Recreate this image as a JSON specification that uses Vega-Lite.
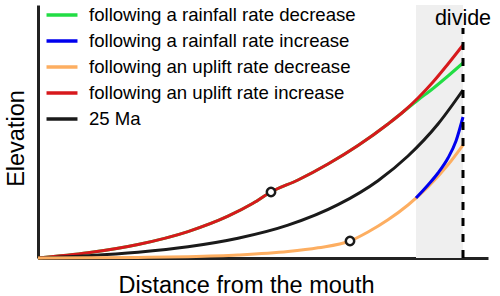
{
  "$schema": "https://vega.github.io/schema/vega-lite/v6.json",
  "width": 450,
  "height": 253,
  "autosize": "none",
  "padding": {"left": 38, "top": 5, "right": 12, "bottom": 38},
  "config": {
    "view": {"stroke": null},
    "font": "Liberation Sans",
    "axis": {"grid": false, "ticks": false, "labels": false, "domainColor": "#222222", "domainWidth": 3, "titleFontSize": 23.5, "titleFontWeight": "normal", "titleColor": "#000000", "titleFont": "Liberation Sans"}
  },
  "datasets": {
    "curves": [
      {"series": "following a rainfall rate decrease", "x": 0, "y": 0},
      {"series": "following a rainfall rate decrease", "x": 50, "y": 5.2},
      {"series": "following a rainfall rate decrease", "x": 100, "y": 13.5},
      {"series": "following a rainfall rate decrease", "x": 150, "y": 26.4},
      {"series": "following a rainfall rate decrease", "x": 190, "y": 41.8},
      {"series": "following a rainfall rate decrease", "x": 215, "y": 54.7},
      {"series": "following a rainfall rate decrease", "x": 233, "y": 66},
      {"series": "following a rainfall rate decrease", "x": 260, "y": 78},
      {"series": "following a rainfall rate decrease", "x": 290, "y": 94},
      {"series": "following a rainfall rate decrease", "x": 320, "y": 112.5},
      {"series": "following a rainfall rate decrease", "x": 350, "y": 134},
      {"series": "following a rainfall rate decrease", "x": 365, "y": 146},
      {"series": "following a rainfall rate decrease", "x": 380, "y": 158},
      {"series": "following a rainfall rate decrease", "x": 395, "y": 169.5},
      {"series": "following a rainfall rate decrease", "x": 410, "y": 182},
      {"series": "following a rainfall rate decrease", "x": 425, "y": 195},
      {"series": "following an uplift rate increase", "x": 0, "y": 0},
      {"series": "following an uplift rate increase", "x": 50, "y": 5.2},
      {"series": "following an uplift rate increase", "x": 100, "y": 13.5},
      {"series": "following an uplift rate increase", "x": 150, "y": 26.4},
      {"series": "following an uplift rate increase", "x": 190, "y": 41.8},
      {"series": "following an uplift rate increase", "x": 215, "y": 54.7},
      {"series": "following an uplift rate increase", "x": 233, "y": 66},
      {"series": "following an uplift rate increase", "x": 260, "y": 78},
      {"series": "following an uplift rate increase", "x": 290, "y": 94},
      {"series": "following an uplift rate increase", "x": 320, "y": 112.5},
      {"series": "following an uplift rate increase", "x": 350, "y": 134},
      {"series": "following an uplift rate increase", "x": 365, "y": 146},
      {"series": "following an uplift rate increase", "x": 380, "y": 160},
      {"series": "following an uplift rate increase", "x": 395, "y": 176},
      {"series": "following an uplift rate increase", "x": 410, "y": 194},
      {"series": "following an uplift rate increase", "x": 425, "y": 213},
      {"series": "25 Ma", "x": 0, "y": 0},
      {"series": "25 Ma", "x": 50, "y": 2.3},
      {"series": "25 Ma", "x": 100, "y": 5.8},
      {"series": "25 Ma", "x": 150, "y": 11.2},
      {"series": "25 Ma", "x": 200, "y": 19.7},
      {"series": "25 Ma", "x": 250, "y": 32.8},
      {"series": "25 Ma", "x": 300, "y": 53.3},
      {"series": "25 Ma", "x": 340, "y": 77.3},
      {"series": "25 Ma", "x": 370, "y": 102},
      {"series": "25 Ma", "x": 400, "y": 134},
      {"series": "25 Ma", "x": 425, "y": 168},
      {"series": "following an uplift rate decrease", "x": 0, "y": 0},
      {"series": "following an uplift rate decrease", "x": 100, "y": 0.55},
      {"series": "following an uplift rate decrease", "x": 150, "y": 1.34},
      {"series": "following an uplift rate decrease", "x": 200, "y": 3.0},
      {"series": "following an uplift rate decrease", "x": 250, "y": 6.4},
      {"series": "following an uplift rate decrease", "x": 280, "y": 10.2},
      {"series": "following an uplift rate decrease", "x": 312, "y": 17},
      {"series": "following an uplift rate decrease", "x": 330, "y": 26},
      {"series": "following an uplift rate decrease", "x": 350, "y": 38.2},
      {"series": "following an uplift rate decrease", "x": 370, "y": 53},
      {"series": "following an uplift rate decrease", "x": 390, "y": 71.1},
      {"series": "following an uplift rate decrease", "x": 410, "y": 93.2},
      {"series": "following an uplift rate decrease", "x": 425, "y": 113},
      {"series": "following a rainfall rate increase", "x": 378, "y": 60},
      {"series": "following a rainfall rate increase", "x": 390, "y": 73},
      {"series": "following a rainfall rate increase", "x": 400, "y": 85},
      {"series": "following a rainfall rate increase", "x": 410, "y": 100},
      {"series": "following a rainfall rate increase", "x": 418, "y": 117},
      {"series": "following a rainfall rate increase", "x": 425, "y": 141}
    ],
    "knicks": [
      {"x": 233, "y": 66},
      {"x": 312, "y": 17}
    ]
  },
  "layer": [
    {
      "data": {"values": [{"from": 378, "to": 425}]},
      "mark": {"type": "rect", "color": "#efefef"},
      "encoding": {
        "x": {"field": "from", "type": "quantitative", "scale": {"domain": [0, 450], "nice": false, "zero": false}, "axis": {"title": "Distance from the mouth", "titleX": 208, "titleY": 34, "titleBaseline": "alphabetic", "titleAlign": "center"}},
        "x2": {"field": "to"},
        "y": {"datum": 0, "type": "quantitative", "scale": {"domain": [0, 253], "nice": false, "zero": false}, "axis": {"title": "Elevation", "titleX": -15, "titleY": 133, "titleAngle": -90, "titleBaseline": "alphabetic", "titleAlign": "center"}},
        "y2": {"datum": 253}
      }
    },
    {
      "data": {"name": "curves"},
      "transform": [{"filter": "datum.series === 'following a rainfall rate decrease'"}],
      "mark": {"type": "line", "strokeWidth": 3, "interpolate": "monotone"},
      "encoding": {
        "x": {"field": "x", "type": "quantitative"},
        "y": {"field": "y", "type": "quantitative"},
        "color": {"field": "series", "type": "nominal"}
      }
    },
    {
      "data": {"name": "curves"},
      "transform": [{"filter": "datum.series === 'following an uplift rate increase'"}],
      "mark": {"type": "line", "strokeWidth": 3, "interpolate": "monotone"},
      "encoding": {
        "x": {"field": "x", "type": "quantitative"},
        "y": {"field": "y", "type": "quantitative"},
        "color": {"field": "series", "type": "nominal"}
      }
    },
    {
      "data": {"name": "curves"},
      "transform": [{"filter": "datum.series === '25 Ma'"}],
      "mark": {"type": "line", "strokeWidth": 3, "interpolate": "monotone"},
      "encoding": {
        "x": {"field": "x", "type": "quantitative"},
        "y": {"field": "y", "type": "quantitative"},
        "color": {"field": "series", "type": "nominal"}
      }
    },
    {
      "data": {"name": "curves"},
      "transform": [{"filter": "datum.series === 'following an uplift rate decrease'"}],
      "mark": {"type": "line", "strokeWidth": 3, "interpolate": "monotone"},
      "encoding": {
        "x": {"field": "x", "type": "quantitative"},
        "y": {"field": "y", "type": "quantitative"},
        "color": {"field": "series", "type": "nominal"}
      }
    },
    {
      "data": {"name": "curves"},
      "transform": [{"filter": "datum.series === 'following a rainfall rate increase'"}],
      "mark": {"type": "line", "strokeWidth": 3, "interpolate": "monotone"},
      "encoding": {
        "x": {"field": "x", "type": "quantitative"},
        "y": {"field": "y", "type": "quantitative"},
        "color": {
          "field": "series",
          "type": "nominal",
          "scale": {
            "domain": ["following a rainfall rate decrease", "following a rainfall rate increase", "following an uplift rate decrease", "following an uplift rate increase", "25 Ma"],
            "range": ["#22dd44", "#0000ee", "#fdae61", "#d7191c", "#1a1a1a"]
          },
          "legend": {
            "title": null,
            "orient": "none",
            "legendX": 10,
            "legendY": -4,
            "symbolType": "M-1.29,0H1.29",
            "symbolSize": 576,
            "symbolStrokeWidth": 3.5,
            "labelFontSize": 18.6,
            "labelColor": "#000000",
            "labelFont": "Liberation Sans",
            "labelOffset": 13,
            "rowPadding": 2,
            "padding": 0,
            "labelLimit": 400
          }
        }
      }
    },
    {
      "data": {"name": "knicks"},
      "mark": {"type": "point", "shape": "circle", "filled": true, "fill": "#ffffff", "stroke": "#1a1a1a", "strokeWidth": 2.5, "size": 70, "opacity": 1},
      "encoding": {
        "x": {"field": "x", "type": "quantitative"},
        "y": {"field": "y", "type": "quantitative"}
      }
    },
    {
      "data": {"values": [{"pos": 425, "label": "divide"}]},
      "mark": {"type": "rule", "color": "#000000", "strokeWidth": 3, "strokeDash": [8, 8]},
      "encoding": {
        "x": {"field": "pos", "type": "quantitative"},
        "y": {"datum": 0},
        "y2": {"datum": 230}
      }
    },
    {
      "data": {"values": [{"pos": 425, "label": "divide"}]},
      "mark": {"type": "text", "fontSize": 21.5, "align": "center", "baseline": "alphabetic", "color": "#000000", "font": "Liberation Sans"},
      "encoding": {
        "x": {"field": "pos", "type": "quantitative"},
        "y": {"datum": 233},
        "text": {"field": "label"}
      }
    }
  ]
}
